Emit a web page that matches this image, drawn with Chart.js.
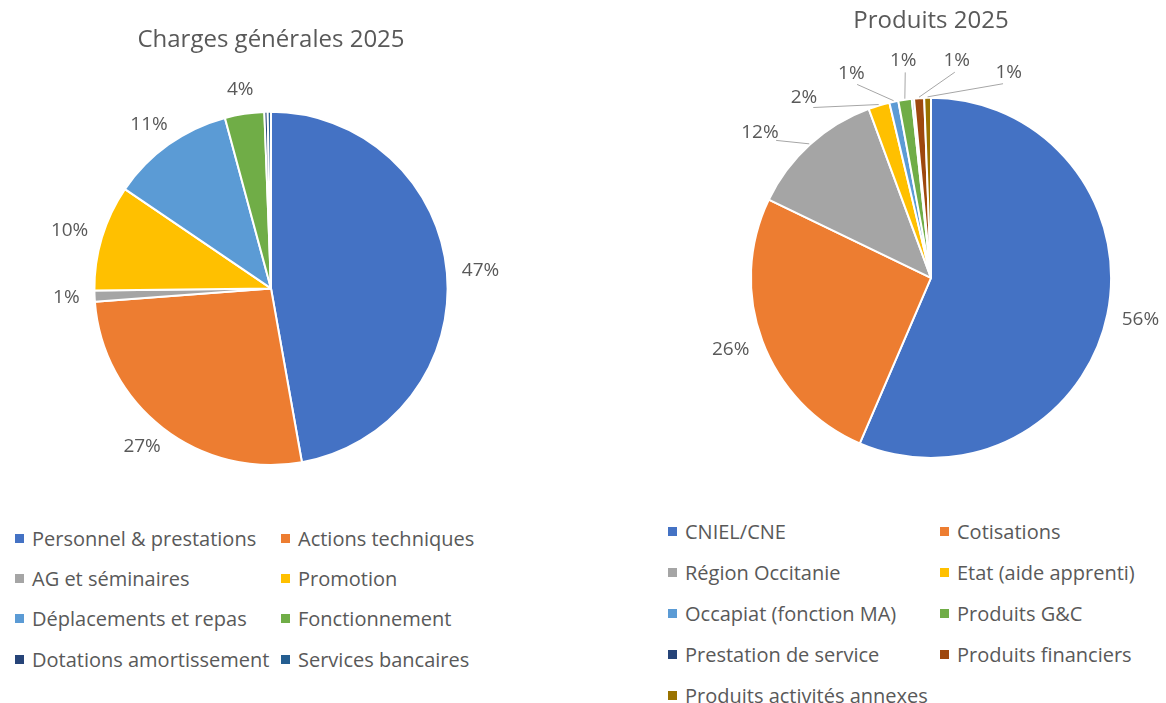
<!DOCTYPE html>
<html lang="fr">
<head>
<meta charset="utf-8">
<title>Charges et produits 2025</title>
<script src="https://cdn.jsdelivr.net/npm/chart.js@4.4.1/dist/chart.umd.min.js"></script>
<style>
  html, body { margin: 0; padding: 0; background: #fff; overflow: hidden; }
  body { width: 1166px; height: 703px; position: relative; font-family: "Open Sans", Lato, sans-serif; }
  canvas { position: absolute; }
  #chargesChart { left: 0; top: 0; }
  #produitsChart { left: 696px; top: 0; }
  .legend { position: absolute; display: grid; color: #595959; font-size: 20px; }
  .legend .item { display: flex; align-items: center; white-space: nowrap; }
  .legend .box { width: 9px; height: 9px; margin-right: 8px; flex: none; }
  #chargesLegend { left: 15px; top: 518px; grid-template-columns: 266px 266px; grid-auto-rows: 40.3px; }
  #produitsLegend { left: 668px; top: 511px; grid-template-columns: 272px 240px; grid-auto-rows: 41px; }
</style>
</head>
<body>
<canvas id="chargesChart" width="542" height="490"></canvas>
<canvas id="produitsChart" width="470" height="490"></canvas>
<div id="chargesLegend" class="legend"></div>
<div id="produitsLegend" class="legend"></div>
<script>
// données (en %)
const chargesLabels = ['Personnel & prestations', 'Actions techniques', 'AG et séminaires', 'Promotion',
    'Déplacements et repas', 'Fonctionnement', 'Dotations amortissement', 'Services bancaires'];
const chargesValues = [47.2, 26.6, 1.0, 9.7, 11.3, 3.6, 0.3, 0.3];
const chargesColors = ['#4472C4', '#ED7D31', '#A5A5A5', '#FFC000', '#5B9BD5', '#70AD47', '#264478', '#255E91'];

const produitsLabels = ['CNIEL/CNE', 'Cotisations', 'Région Occitanie', 'Etat (aide apprenti)',
    'Occapiat (fonction MA)', 'Produits G&C', 'Prestation de service', 'Produits financiers', 'Produits activités annexes'];
const produitsValues = [56.3, 25.6, 12.2, 1.9, 0.8, 1.2, 0.2, 0.9, 0.6];
const produitsColors = ['#4472C4', '#ED7D31', '#A5A5A5', '#FFC000', '#5B9BD5', '#70AD47', '#264478', '#9E480E', '#997300'];

const textColor = '#595959';
const fontFamily = '"Open Sans", Lato, sans-serif';

// étiquettes % à l'extérieur, avec traits de rappel si décalées
const pieLabels = {
    id: 'pieLabels',
    afterDatasetsDraw(chart, args, opts) {
        const meta = chart.getDatasetMeta(0);
        const data = chart.data.datasets[0].data;
        const total = data.reduce((a, b) => a + b, 0);
        const ctx = chart.ctx;
        ctx.save();
        ctx.font = '19px ' + fontFamily;
        const items = [];
        meta.data.forEach((arc, i) => {
            if (data[i] / total < 0.005) return;
            const p = arc.getProps(['x', 'y', 'startAngle', 'endAngle', 'outerRadius'], true);
            const mid = (p.startAngle + p.endAngle) / 2;
            items.push({ mid: mid, ang: mid, text: Math.round(data[i] / total * 100) + '%', x: p.x, y: p.y, r: p.outerRadius });
        });
        const minSep = opts.minSep || 0;
        for (let k = 0; k < 80; k++) {
            for (let j = 1; j < items.length; j++) {
                const d = items[j].ang - items[j - 1].ang;
                if (d < minSep) {
                    const push = (minSep - d) / 2;
                    items[j].ang += push;
                    items[j - 1].ang -= push;
                }
            }
        }
        ctx.textAlign = 'center';
        ctx.textBaseline = 'middle';
        items.forEach(it => {
            const moved = Math.abs(it.ang - it.mid) > 0.015;
            const gap = 15 + (moved ? 15 : 0);
            const w = ctx.measureText(it.text).width;
            const h = 18;
            const ax = it.x + Math.cos(it.ang) * (it.r + gap);
            const ay = it.y + Math.sin(it.ang) * (it.r + gap);
            const cx = ax + Math.cos(it.ang) * w / 2;
            const cy = ay + Math.sin(it.ang) * h / 2;
            if (moved) {
                ctx.strokeStyle = '#A6A6A6';
                ctx.lineWidth = 1;
                ctx.beginPath();
                ctx.moveTo(it.x + Math.cos(it.mid) * (it.r + 1), it.y + Math.sin(it.mid) * (it.r + 1));
                ctx.lineTo(ax - Math.cos(it.ang) * 3, ay - Math.sin(it.ang) * 3);
                ctx.stroke();
            }
            ctx.fillStyle = textColor;
            ctx.fillText(it.text, cx, cy);
        });
        ctx.restore();
    }
};

function buildLegend(chart, el) {
    const items = Chart.overrides.pie.plugins.legend.labels.generateLabels(chart);
    el.innerHTML = '';
    items.forEach(item => {
        const div = document.createElement('div');
        div.className = 'item';
        const box = document.createElement('span');
        box.className = 'box';
        box.style.background = item.fillStyle;
        const span = document.createElement('span');
        span.textContent = item.text;
        div.appendChild(box);
        div.appendChild(span);
        el.appendChild(div);
    });
}

function makePie(id, title, labels, values, colors, titlePad, layoutPad, minSep) {
    return new Chart(document.getElementById(id), {
        type: 'pie',
        data: {
            labels: labels,
            datasets: [{
                data: values,
                backgroundColor: colors,
                borderColor: '#ffffff',
                borderWidth: 2
            }]
        },
        options: {
            responsive: false,
            animation: false,
            layout: { padding: layoutPad },
            plugins: {
                legend: { display: false },
                tooltip: { enabled: false },
                title: {
                    display: true,
                    text: title,
                    color: textColor,
                    font: { family: fontFamily, size: 24, weight: 'normal' },
                    padding: titlePad
                },
                pieLabels: { minSep: minSep }
            }
        },
        plugins: [pieLabels]
    });
}

const charges = makePie('chargesChart', 'Charges générales 2025', chargesLabels, chargesValues, chargesColors,
    { top: 26, bottom: 56 }, { top: 0, bottom: 24, left: 0, right: 0 }, 0);
const produits = makePie('produitsChart', 'Produits 2025', produitsLabels, produitsValues, produitsColors,
    { top: 7, bottom: 61 }, { top: 0, bottom: 31, left: 0, right: 0 }, 0.24);

buildLegend(charges, document.getElementById('chargesLegend'));
buildLegend(produits, document.getElementById('produitsLegend'));
</script>
</body>
</html>
